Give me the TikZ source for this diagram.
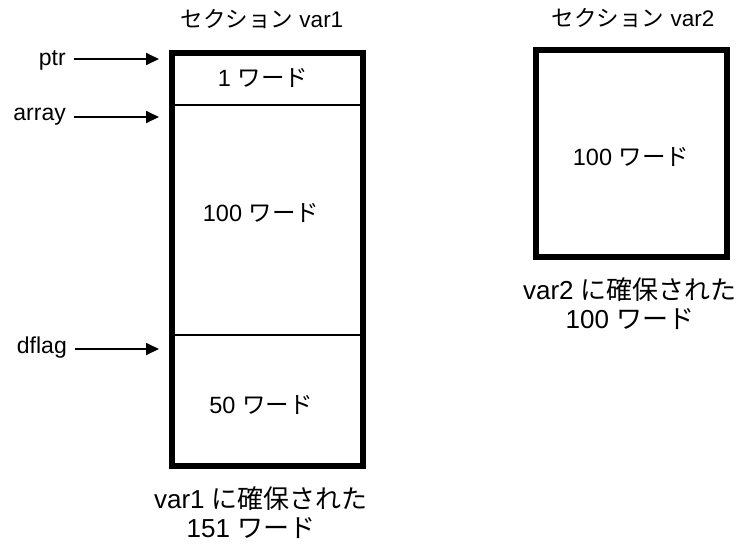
\documentclass[tikz,border=0pt]{standalone}
\usepackage{fontspec}
\setmainfont{Liberation Sans}
\newfontfamily\jp{Noto Sans CJK JP}
\usetikzlibrary{arrows.meta}
\tikzset{
  lbl/.style={inner sep=0pt, font=\fontsize{23.5}{27}\selectfont},
  ttl/.style={inner sep=0pt, font=\fontsize{22.5}{27}\selectfont},
  caplbl/.style={inner sep=0pt, font=\fontsize{26}{30}\selectfont},
  ptrlbl/.style={inner sep=0pt, anchor=east, font=\fontsize{23}{27}\selectfont},
  outerbox/.style={draw=black, line width=5.5pt},
  divider/.style={draw=black, line width=1.3pt},
  ptrarrow/.style={draw=black, line width=1.7pt, -{Triangle[length=13pt,width=12pt]}}
}
\newcommand{\J}[1]{{\jp #1}}
\begin{document}
\begin{tikzpicture}[x=1pt,y=-1pt]
\useasboundingbox (0,0) rectangle (743,549);
% section var1
\draw[outerbox] (172,53) rectangle (363,466);
\coordinate (d1l) at (172,105); \coordinate (d1r) at (363,105);
\coordinate (d2l) at (172,335); \coordinate (d2r) at (363,335);
\draw[divider] (d1l) -- (d1r);
\draw[divider] (d2l) -- (d2r);
\node[ttl] (t1) at (262,19) {\J{セクション} var1};
\node[lbl] (w1) at (263,78) {1 \J{ワード}};
\node[lbl] (w100) at (261,213) {100 \J{ワード}};
\node[lbl] (w50) at (261,405) {50 \J{ワード}};
\node[caplbl] (b1a) at (261,499) {var1 \J{に確保された}};
\node[caplbl] (b1b) at (251,528) {151 \J{ワード}};
% pointers
\node[ptrlbl] (ptr) at (66,60) {ptr};
\node[ptrlbl] (array) at (66,117) {array};
\node[ptrlbl] (dflag) at (67,348) {dflag};
\coordinate (p1) at (159,59);
\coordinate (p2) at (159,117);
\coordinate (p3) at (159,349);
\draw[ptrarrow] ([xshift=8pt]ptr.east |- p1) -- (p1);
\draw[ptrarrow] ([xshift=8pt]array.east |- p2) -- (p2);
\draw[ptrarrow] ([xshift=8pt]dflag.east |- p3) -- (p3);
% section var2
\draw[outerbox] (536,50) rectangle (727,257);
\node[ttl] (t2) at (633,18) {\J{セクション} var2};
\node[lbl] (w2) at (631,157) {100 \J{ワード}};
\node[caplbl] (b2a) at (630,290) {var2 \J{に確保された}};
\node[caplbl] (b2b) at (630,319) {100 \J{ワード}};
\end{tikzpicture}
\end{document}
